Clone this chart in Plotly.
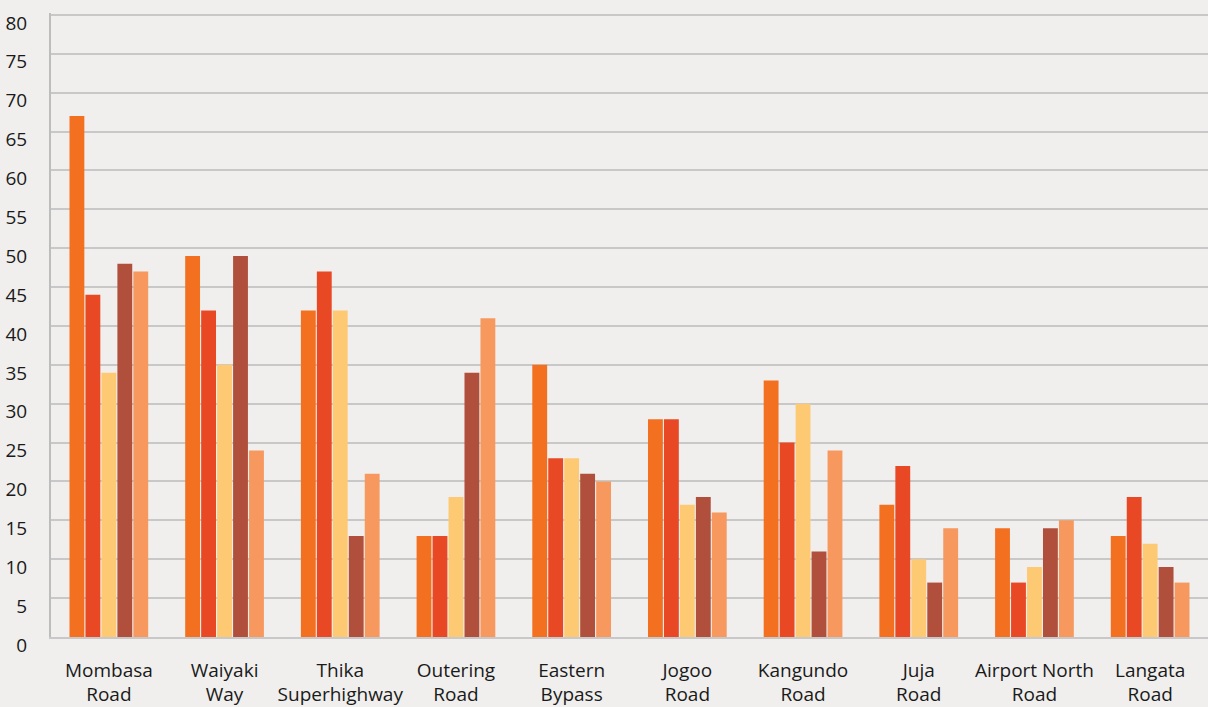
import plotly.graph_objects as go

categories = ["Mombasa<br>Road", "Waiyaki<br>Way", "Thika<br>Superhighway", "Outering<br>Road",
              "Eastern<br>Bypass", "Jogoo<br>Road", "Kangundo<br>Road", "Juja<br>Road",
              "Airport North<br>Road", "Langata<br>Road"]
series_1 = [67, 49, 42, 13, 35, 28, 33, 17, 14, 13]
series_2 = [44, 42, 47, 13, 23, 28, 25, 22, 7, 18]
series_3 = [34, 35, 42, 18, 23, 17, 30, 10, 9, 12]
series_4 = [48, 49, 13, 34, 21, 18, 11, 7, 14, 9]
series_5 = [47, 24, 21, 41, 20, 16, 24, 14, 15, 7]
y_ticks = list(range(0, 81, 5))

colors = ["#F37021", "#E84824", "#FEC973", "#B0503C", "#F7985E"]
all_series = [series_1, series_2, series_3, series_4, series_5]

fig = go.Figure()
for vals, c in zip(all_series, colors):
    fig.add_trace(go.Bar(x=categories, y=vals, marker=dict(color=c, line=dict(width=0)),
                         showlegend=False))

font_family = "Open Sans, Lato, sans-serif"
fig.update_layout(
    width=1208, height=707,
    paper_bgcolor="#F0EFED", plot_bgcolor="#F0EFED",
    margin=dict(l=51, r=0, t=13, b=70),
    barmode="group", bargap=0.31, bargroupgap=0.07,
    font=dict(family=font_family, size=19, color="#1a1a1a"),
)
fig.update_yaxes(range=[0, 80.25], tickvals=y_ticks, showgrid=True, gridcolor="#C8C8C8", gridwidth=1.5,
                 showline=True, linecolor="#BDBDBD", linewidth=2, zeroline=False, automargin=False,
                 ticks="", ticklabelstandoff=18, ticklabelshift=8,
                 tickfont=dict(size=19, family=font_family))
fig.update_xaxes(showgrid=False, showline=True, linecolor="#C8C8C8", linewidth=1.5, ticks="",
                 automargin=False,
                 tickfont=dict(size=19, family=font_family), ticklabelstandoff=15, tickangle=0)

fig.write_html("out.html", config={"displayModeBar": False},
               post_script="document.body.style.margin='0';document.body.style.padding='0';document.body.style.background='#F0EFED';")
